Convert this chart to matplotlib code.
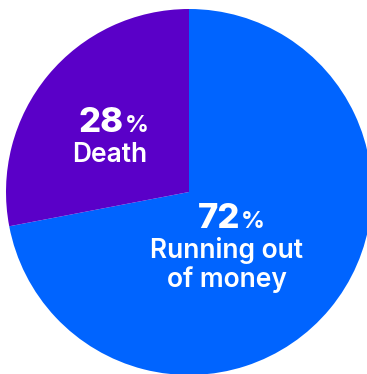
import matplotlib
matplotlib.use("Agg")
import matplotlib.pyplot as plt

labels = ["Running out\nof money", "Death"]
values = [72, 28]
colors = ["#0064FF", "#5A00C8"]

W, H = 367, 374
fig = plt.figure(figsize=(W / 100, H / 100), dpi=100)
ax = fig.add_axes([0, 0, 1, 1])

ax.pie(values, colors=colors, startangle=90, counterclock=False,
       center=(189, H - 192), radius=183,
       wedgeprops=dict(linewidth=0), frame=True)
ax.set_xlim(0, W)
ax.set_ylim(0, H)
ax.set_aspect("equal")
ax.axis("off")

fam = ["Inter", "DejaVu Sans"]
# (x of number right edge, baseline y of number, label center x, first label baseline y)
layout = {
    "Death": (124, H - 132, 110, H - 162),
    "Running out\nof money": (240, H - 228, 227, H - 258),
}
line_step = 29
for lab, val in zip(labels, values):
    xr, yb, xc, yl = layout[lab]
    ax.text(xr, yb, f"{val}", ha="right", va="baseline", color="white",
            fontsize=25, fontweight="heavy", family=fam)
    ax.text(xr + 1, yb, "%", ha="left", va="baseline", color="white",
            fontsize=17, fontweight="bold", family=fam)
    for i, line in enumerate(lab.split("\n")):
        ax.text(xc, yl - i * line_step, line, ha="center", va="baseline",
                color="white", fontsize=19, fontweight="semibold", family=fam)

fig.savefig("out.png", dpi=100)
